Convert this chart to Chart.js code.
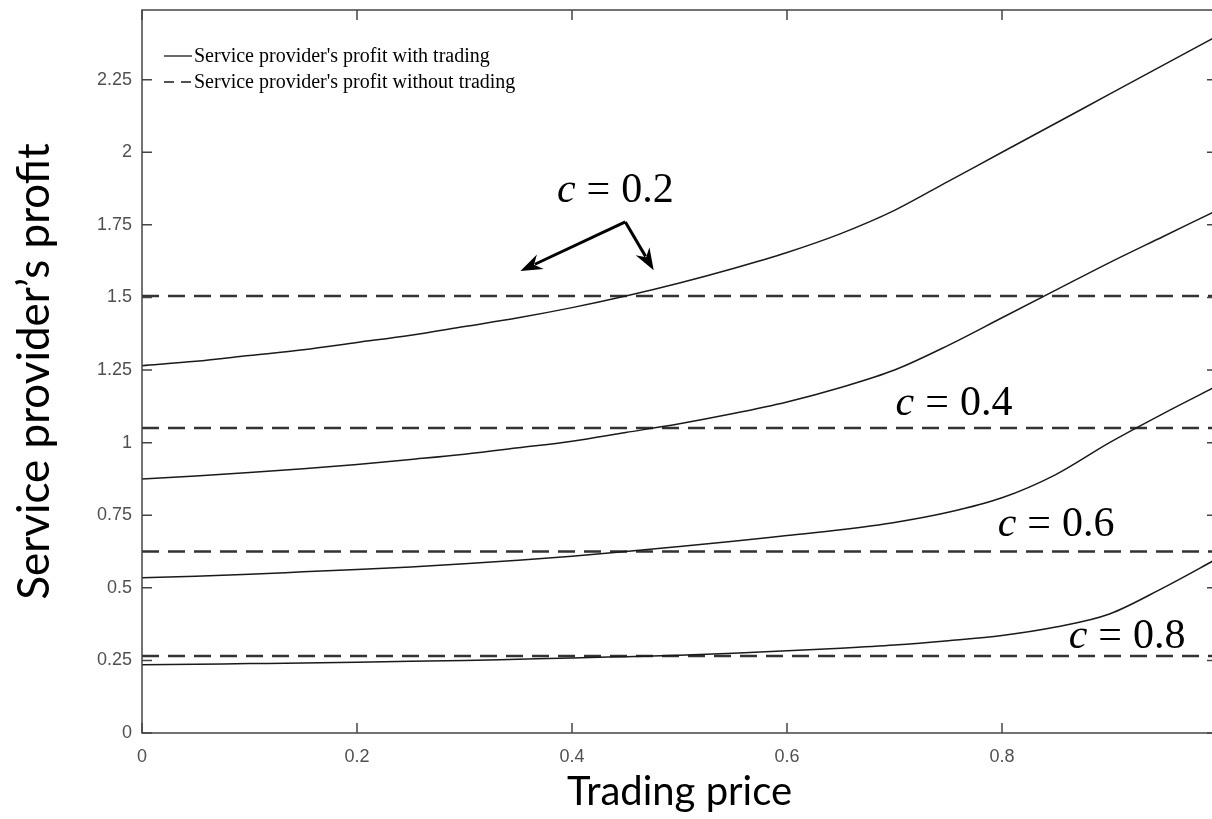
<!DOCTYPE html>
<html lang="en">
  <head>
    <meta charset="utf-8" />
    <title>Service provider's profit vs trading price</title>
    <style>
      * {
        margin: 0;
        padding: 0;
      }
      html,
      body {
        width: 1212px;
        height: 819px;
        overflow: hidden;
        background: #fff;
      }
      .chartBox {
        width: 1220px;
        height: 819px;
      }
    </style>
  </head>
  <body>
    <div class="chartBox">
      <canvas id="myChart" width="1220" height="819"></canvas>
    </div>
    <script src="https://cdn.jsdelivr.net/npm/chart.js"></script>
    <script>
      // data
      const tradingPrice = [0, 0.05, 0.1, 0.15, 0.2, 0.25, 0.3, 0.35, 0.4, 0.45, 0.5, 0.55, 0.6, 0.65, 0.7, 0.75, 0.8, 0.85, 0.9, 0.95, 1];
      const profitC02 = [1.265, 1.28, 1.3, 1.32, 1.345, 1.37, 1.4, 1.43, 1.465, 1.505, 1.55, 1.6, 1.655, 1.72, 1.8, 1.9, 2.0, 2.1, 2.2, 2.3, 2.4];
      const profitC04 = [0.875, 0.885, 0.897, 0.91, 0.925, 0.942, 0.96, 0.982, 1.005, 1.035, 1.065, 1.1, 1.14, 1.19, 1.25, 1.335, 1.43, 1.525, 1.62, 1.71, 1.8];
      const profitC06 = [0.535, 0.54, 0.547, 0.555, 0.563, 0.572, 0.583, 0.595, 0.609, 0.625, 0.642, 0.66, 0.68, 0.7, 0.725, 0.76, 0.81, 0.89, 1.0, 1.1, 1.195];
      const profitC08 = [0.235, 0.237, 0.239, 0.241, 0.244, 0.247, 0.25, 0.254, 0.258, 0.263, 0.268, 0.275, 0.283, 0.292, 0.303, 0.318, 0.336, 0.365, 0.41, 0.5, 0.6];
      const profitNoTrade = [1.505, 1.05, 0.625, 0.265];
      const costValues = ['0.2', '0.4', '0.6', '0.8'];
      const xTicks = [0, 0.2, 0.4, 0.6, 0.8, 1];
      const yTicks = [0, 0.25, 0.5, 0.75, 1, 1.25, 1.5, 1.75, 2, 2.25];
      const legendLabels = ["Service provider's profit with trading", "Service provider's profit without trading"];

      const withTrading = [profitC02, profitC04, profitC06, profitC08];

      const solidSets = withTrading.map((arr, i) => ({
        label: 'c = ' + costValues[i] + ' with trading',
        data: tradingPrice.map((x, j) => ({ x, y: arr[j] })),
        borderColor: '#1a1a1a',
        borderWidth: 1.5,
        pointRadius: 0,
        cubicInterpolationMode: 'monotone',
      }));

      const dashedSets = profitNoTrade.map((v, i) => ({
        label: 'c = ' + costValues[i] + ' without trading',
        data: [
          { x: 0, y: v },
          { x: 1, y: v },
        ],
        borderColor: '#333',
        borderWidth: 2.5,
        borderDash: [17, 9],
        pointRadius: 0,
      }));

      // where the "c = .." notes and arrows sit, in axis units
      const notes = [
        { x: 0.386, y: 1.829 },
        { x: 0.701, y: 1.095 },
        { x: 0.796, y: 0.678 },
        { x: 0.862, y: 0.293 },
      ];
      const arrowFrom = { x: 0.4496, y: 1.76 };
      const arrowTo = [
        { x: 0.352, y: 1.591 },
        { x: 0.476, y: 1.594 },
      ];

      // frame with inward ticks, like matlab's box on
      const boxTicks = {
        id: 'boxTicks',
        afterDraw(chart) {
          const { ctx, chartArea, scales } = chart;
          const { left, right, top, bottom } = chartArea;
          const len = 10;
          ctx.save();
          ctx.strokeStyle = '#454545';
          ctx.lineWidth = 1.5;
          ctx.strokeRect(left, top, right - left, bottom - top);
          ctx.beginPath();
          scales.x.ticks.forEach((t) => {
            const px = scales.x.getPixelForValue(t.value);
            ctx.moveTo(px, bottom);
            ctx.lineTo(px, bottom - len);
            ctx.moveTo(px, top);
            ctx.lineTo(px, top + len);
          });
          scales.y.ticks.forEach((t) => {
            const py = scales.y.getPixelForValue(t.value);
            ctx.moveTo(left, py);
            ctx.lineTo(left + len, py);
            ctx.moveTo(right, py);
            ctx.lineTo(right - len, py);
          });
          ctx.stroke();
          ctx.restore();
        },
      };

      const drawArrow = (ctx, x1, y1, x2, y2) => {
        const ang = Math.atan2(y2 - y1, x2 - x1);
        const hl = 22;
        const hw = 8;
        const bx = x2 - hl * Math.cos(ang);
        const by = y2 - hl * Math.sin(ang);
        ctx.beginPath();
        ctx.moveTo(x1, y1);
        ctx.lineTo(bx + 6 * Math.cos(ang), by + 6 * Math.sin(ang));
        ctx.stroke();
        ctx.beginPath();
        ctx.moveTo(x2, y2);
        ctx.lineTo(bx - hw * Math.sin(ang), by + hw * Math.cos(ang));
        ctx.lineTo(bx + 7 * Math.cos(ang), by + 7 * Math.sin(ang));
        ctx.lineTo(bx + hw * Math.sin(ang), by - hw * Math.cos(ang));
        ctx.closePath();
        ctx.fill();
      };

      // legend + text notes
      const notesPlugin = {
        id: 'notesPlugin',
        afterDatasetsDraw(chart) {
          const { ctx, chartArea, scales } = chart;
          const { x, y } = scales;
          ctx.save();

          // legend
          const lx = chartArea.left + 22;
          const rows = [56, 82];
          ctx.font = '20px "Liberation Serif", "Times New Roman", serif';
          ctx.fillStyle = '#000';
          ctx.textBaseline = 'middle';
          ctx.strokeStyle = '#1a1a1a';
          ctx.lineWidth = 1.3;
          ctx.beginPath();
          ctx.moveTo(lx, rows[0]);
          ctx.lineTo(lx + 28, rows[0]);
          ctx.stroke();
          ctx.beginPath();
          ctx.moveTo(lx, rows[1]);
          ctx.lineTo(lx + 10, rows[1]);
          ctx.moveTo(lx + 17, rows[1]);
          ctx.lineTo(lx + 27, rows[1]);
          ctx.stroke();
          legendLabels.forEach((t, i) => ctx.fillText(t, lx + 30, rows[i] + 1));

          // c = .. notes
          ctx.textBaseline = 'alphabetic';
          notes.forEach((n, i) => {
            let px = x.getPixelForValue(n.x);
            const py = y.getPixelForValue(n.y);
            ctx.font = 'italic 42px "Liberation Serif", "Times New Roman", serif';
            ctx.fillText('c', px, py);
            px += ctx.measureText('c').width + 11;
            ctx.font = '42px "Liberation Serif", "Times New Roman", serif';
            ctx.fillText('=', px, py);
            px += ctx.measureText('=').width + 11;
            ctx.fillText(costValues[i], px, py);
          });

          // arrows for c = 0.2
          ctx.strokeStyle = '#000';
          ctx.fillStyle = '#000';
          ctx.lineWidth = 3;
          const fx = x.getPixelForValue(arrowFrom.x);
          const fy = y.getPixelForValue(arrowFrom.y);
          arrowTo.forEach((p) => drawArrow(ctx, fx, fy, x.getPixelForValue(p.x), y.getPixelForValue(p.y)));
          ctx.restore();
        },
      };

      const tickFont = { family: '"Liberation Sans", Arial, sans-serif', size: 18 };

      const config = {
        type: 'line',
        data: { datasets: [...solidSets, ...dashedSets] },
        options: {
          responsive: false,
          animation: false,
          devicePixelRatio: 1,
          layout: { padding: { top: 10, right: 3, left: 0, bottom: 0 } },
          plugins: {
            legend: { display: false },
            tooltip: { enabled: false },
          },
          scales: {
            x: {
              type: 'linear',
              min: 0,
              max: 1,
              afterBuildTicks: (scale) => {
                scale.ticks = xTicks.map((v) => ({ value: v }));
              },
              afterFit: (scale) => {
                scale.height = 86;
                scale.paddingLeft = 0;
                scale.paddingRight = 0;
              },
              grid: { display: false, drawTicks: false },
              border: { display: false },
              ticks: { font: tickFont, color: '#505050', padding: 13, maxRotation: 0, callback: (v) => String(v) },
              title: {
                display: true,
                text: 'Trading price',
                color: '#000',
                font: { family: 'Lato, "Open Sans", sans-serif', size: 40 },
                padding: { top: 0, bottom: 3 },
              },
            },
            y: {
              min: 0,
              max: 2.49,
              afterBuildTicks: (scale) => {
                scale.ticks = yTicks.map((v) => ({ value: v }));
              },
              afterFit: (scale) => {
                scale.width = 142;
                scale.paddingTop = 0;
                scale.paddingBottom = 0;
              },
              grid: { display: false, drawTicks: false },
              border: { display: false },
              ticks: { font: tickFont, color: '#505050', padding: 10, callback: (v) => String(v) },
              title: {
                display: true,
                text: 'Service provider’s profit',
                color: '#000',
                font: { family: 'Lato, "Open Sans", sans-serif', size: 44 },
                padding: { top: 8, bottom: 0 },
              },
            },
          },
        },
        plugins: [boxTicks, notesPlugin],
      };

      const myChart = new Chart(document.getElementById('myChart'), config);
    </script>
  </body>
</html>
